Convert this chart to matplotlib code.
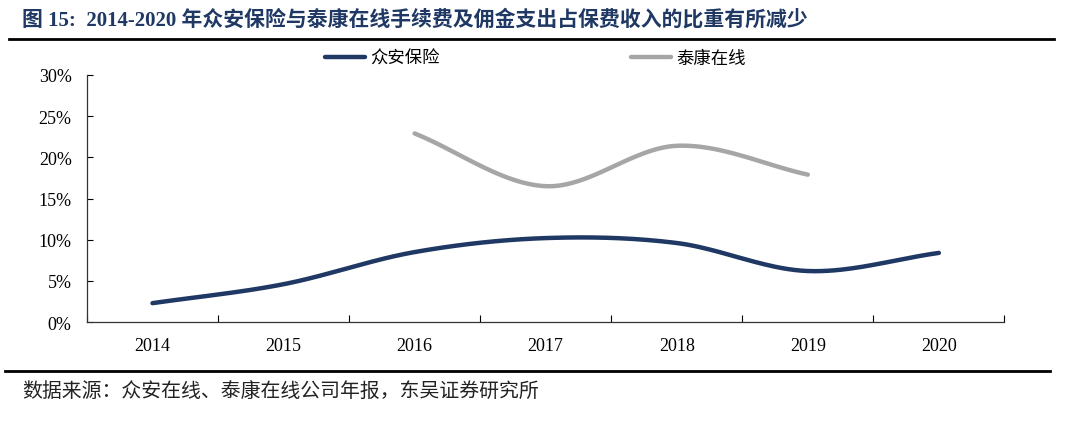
import matplotlib.pyplot as plt
import numpy as np

plt.rcParams['font.family'] = ['Liberation Serif', 'Noto Sans CJK SC', 'DejaVu Sans']

# 数据
years = ['2014', '2015', '2016', '2017', '2018', '2019', '2020']
zhongan = [2.3, 4.6, 8.5, 10.2, 9.6, 6.2, 8.4]
taikang_years = ['2016', '2017', '2018', '2019']
taikang = [22.9, 16.5, 21.4, 17.9]

title_text = '图 15:  2014-2020 年众安保险与泰康在线手续费及佣金支出占保费收入的比重有所减少'
source_text = '数据来源：众安在线、泰康在线公司年报，东吴证券研究所'


def smooth(x, y, n=40):
    # Excel 风格平滑线 (Catmull-Rom)
    x = np.asarray(x, float)
    y = np.asarray(y, float)
    px = np.concatenate([[2 * x[0] - x[1]], x, [2 * x[-1] - x[-2]]])
    py = np.concatenate([[2 * y[0] - y[1]], y, [2 * y[-1] - y[-2]]])
    xs, ys = [], []
    for i in range(1, len(px) - 2):
        t = np.linspace(0, 1, n)
        p0, p1, p2, p3 = [np.array([px[j], py[j]]) for j in range(i - 1, i + 3)]
        c1 = p1 + (p2 - p0) / 6
        c2 = p2 - (p3 - p1) / 6
        pts = ((1 - t) ** 3)[:, None] * p1 + (3 * (1 - t) ** 2 * t)[:, None] * c1 \
            + (3 * (1 - t) * t ** 2)[:, None] * c2 + (t ** 3)[:, None] * p2
        xs.extend(pts[:, 0])
        ys.extend(pts[:, 1])
    return np.array(xs), np.array(ys)


fig = plt.figure(figsize=(10.87, 4.39), dpi=100)
ax = fig.add_axes([0.080, 0.264, 0.844, 0.563])

xz = np.arange(len(years))
xt = np.array([years.index(y) for y in taikang_years])
sx, sy = smooth(xz, zhongan)
ax.plot(sx, sy, color='#1f3864', lw=3.2, solid_capstyle='round', label='众安保险')
tx, ty = smooth(xt, taikang)
ax.plot(tx, ty, color='#a6a6a6', lw=3.2, solid_capstyle='round', label='泰康在线')

ax.set_xlim(-0.5, len(years) - 0.5)
ax.set_ylim(0, 30)
ax.set_yticks(range(0, 31, 5))
ax.set_yticklabels([f'{v}%' for v in range(0, 31, 5)], fontsize=13)
ax.set_xticks(xz)
ax.set_xticklabels(years, fontsize=13)
ax.set_xticks(np.arange(-0.5, len(years)), minor=True)
ax.tick_params(axis='x', which='major', length=0, pad=11)
ax.tick_params(axis='x', which='minor', direction='in', length=5, width=0.8)
ax.tick_params(axis='y', direction='in', length=4, width=0.8, pad=11)
for s in ['top', 'right']:
    ax.spines[s].set_visible(False)
for s in ['left', 'bottom']:
    ax.spines[s].set_linewidth(0.9)
    ax.spines[s].set_color('#333333')

ax.legend(loc='center', bbox_to_anchor=(0.489, 1.07), ncol=2, frameon=False,
          prop={'family': ['Noto Sans CJK SC'], 'size': 12.5}, handlelength=2.3,
          columnspacing=11, handletextpad=0.3)

fig.text(0.020, 0.955, title_text, fontsize=15, fontweight='bold', color='#1f3864',
         va='center', ha='left', family=['Liberation Serif', 'Noto Sans CJK SC'])
fig.add_artist(plt.Line2D([0.008, 0.970], [0.909, 0.909], color='black', lw=2))
fig.add_artist(plt.Line2D([0.005, 0.966], [0.152, 0.152], color='black', lw=2))
fig.text(0.020, 0.107, source_text, fontsize=14.3, color='#222222', va='center', ha='left',
         family=['Noto Sans CJK SC'])

fig.savefig('out.png', dpi=100)
